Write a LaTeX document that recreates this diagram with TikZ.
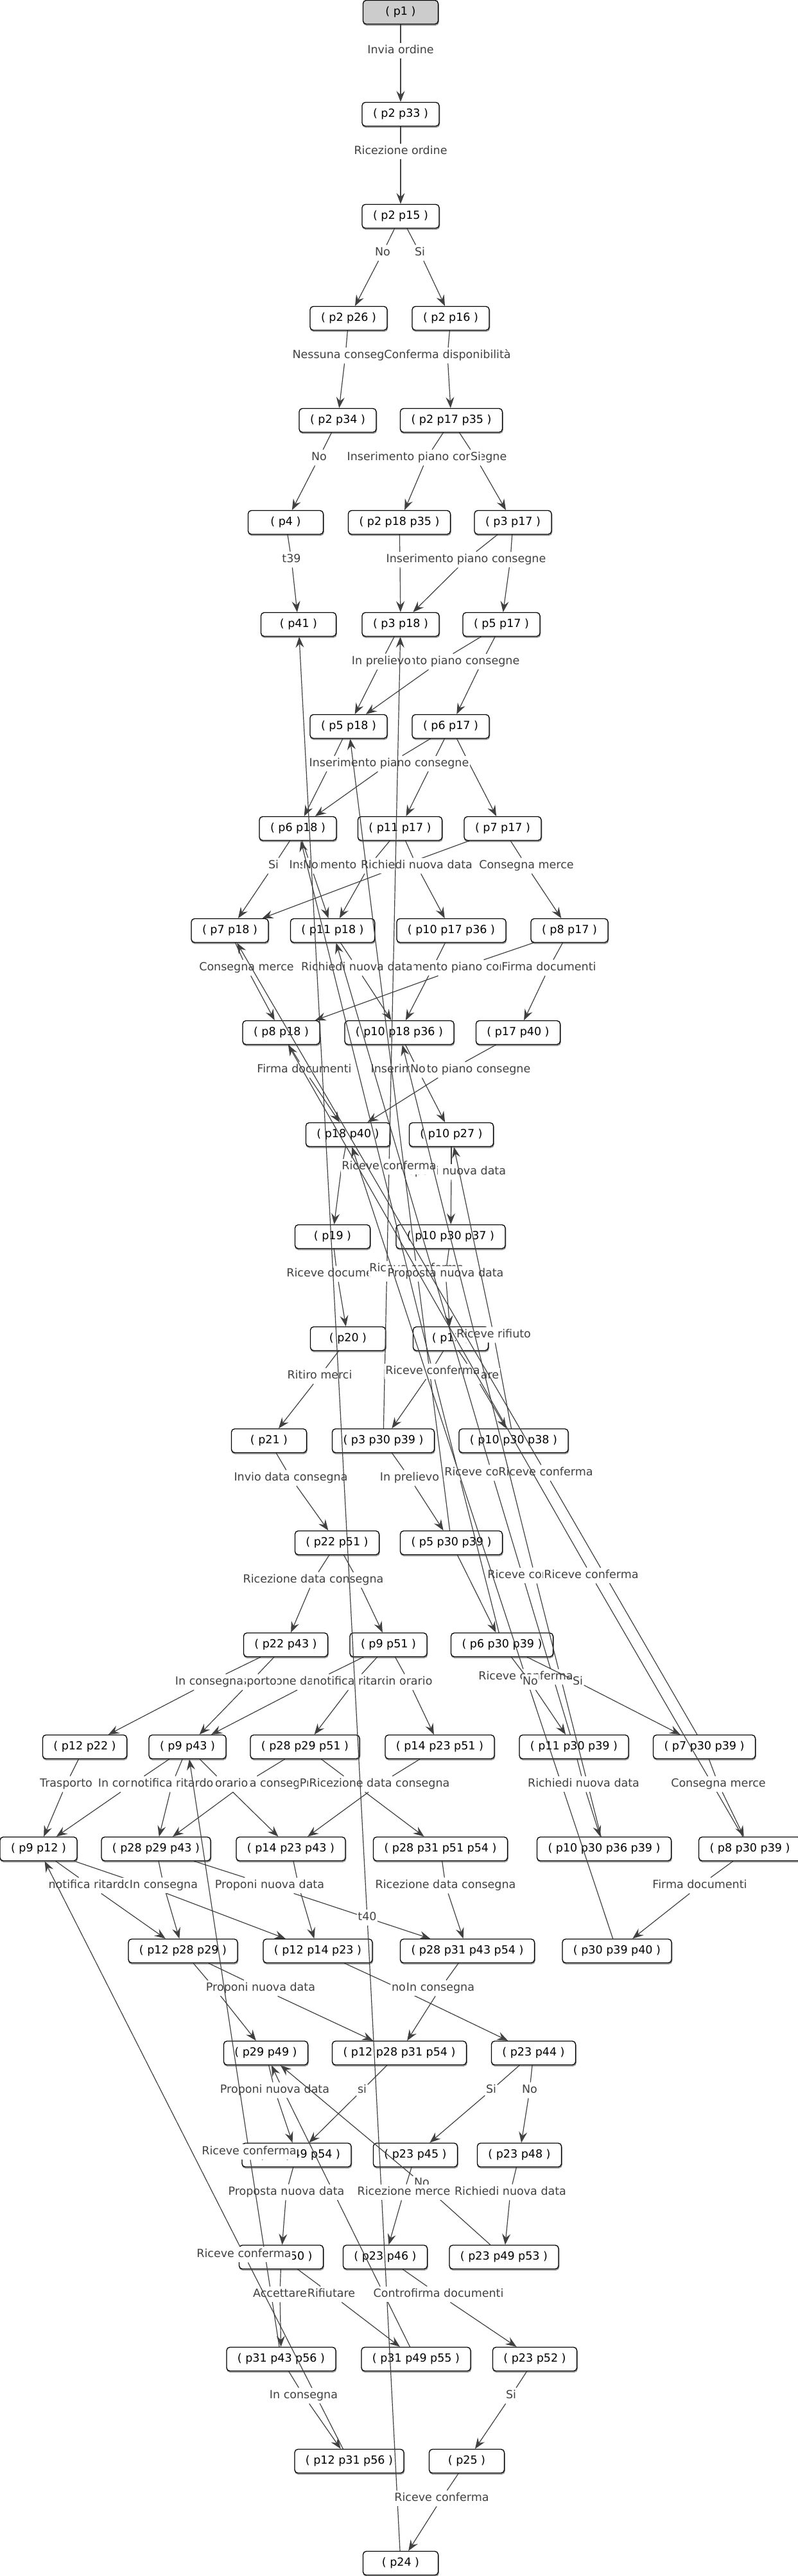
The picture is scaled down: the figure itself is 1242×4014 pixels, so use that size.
\documentclass[tikz,border=0pt]{standalone}
\usepackage{fontspec}
\usetikzlibrary{arrows.meta}
\newfontfamily\dvsans{DejaVu Sans}
\newcommand{\labfont}{\dvsans\fontsize{17.5}{21}\selectfont}
\newcommand{\nodefont}{\dvsans\fontsize{17.5}{21}\selectfont}
\tikzset{
 st/.style={draw=black, line width=1.3pt, rounded corners=5pt, fill=white, minimum width=117pt, minimum height=37pt, inner xsep=17pt, font=\nodefont, text=black,
   preaction={draw=black!45, line width=1.5pt, transform canvas={xshift=0.6pt,yshift=-1.6pt}}},
 lab/.style={fill=white, inner xsep=1.5pt, inner ysep=3pt, text height=14pt, text depth=4.5pt, font=\labfont, text=black!75},
 edge/.style={draw=black!75, line width=1.2pt},
 arr/.style={edge, -{Stealth[length=17pt,width=13pt,inset=6pt]}},
}
\newcommand{\elab}[6]{\node[lab] (#1) at (#4,#5) {#6}; \draw[edge] (#2) -- (#1); \draw[arr] (#1) -- (#3);}
\newcommand{\ehid}[5]{\coordinate (#1) at (#4,#5); \draw[arr] (#2) -- (#1) -- (#3);}
\begin{document}
\begin{tikzpicture}[x=1pt,y=-1pt]
\fill[white] (0,0) rectangle (1242,4014);
\useasboundingbox (0,0) rectangle (1242,4014);
% nodes
\node[st, fill=black!20] (n1) at (624,19) {( p1 )};
\node[st] (n2) at (624,178) {( p2 p33 )};
\node[st] (n3) at (624,337) {( p2 p15 )};
\node[st] (n4) at (543,496) {( p2 p26 )};
\node[st] (n5) at (702,496) {( p2 p16 )};
\node[st] (n6) at (526,655) {( p2 p34 )};
\node[st] (n7) at (703,655) {( p2 p17 p35 )};
\node[st] (n8) at (445,814) {( p4 )};
\node[st] (n9) at (622,814) {( p2 p18 p35 )};
\node[st] (n10) at (799,814) {( p3 p17 )};
\node[st] (n11) at (465,973) {( p41 )};
\node[st] (n12) at (624,973) {( p3 p18 )};
\node[st] (n13) at (781,973) {( p5 p17 )};
\node[st] (n14) at (543,1132) {( p5 p18 )};
\node[st] (n15) at (702,1132) {( p6 p17 )};
\node[st] (n16) at (464,1291) {( p6 p18 )};
\node[st] (n17) at (623,1291) {( p11 p17 )};
\node[st] (n18) at (783,1291) {( p7 p17 )};
\node[st] (n19) at (358,1450) {( p7 p18 )};
\node[st] (n20) at (518,1450) {( p11 p18 )};
\node[st] (n21) at (703,1450) {( p10 p17 p36 )};
\node[st] (n22) at (887,1450) {( p8 p17 )};
\node[st] (n23) at (438,1609) {( p8 p18 )};
\node[st] (n24) at (622,1609) {( p10 p18 p36 )};
\node[st] (n25) at (807,1609) {( p17 p40 )};
\node[st] (n26) at (542,1768) {( p18 p40 )};
\node[st] (n27) at (703,1768) {( p10 p27 )};
\node[st] (n28) at (518,1927) {( p19 )};
\node[st] (n29) at (702,1927) {( p10 p30 p37 )};
\node[st] (n30) at (542,2086) {( p20 )};
\node[st] (n31) at (702,2086) {( p13 )};
\node[st] (n32) at (419,2245) {( p21 )};
\node[st] (n33) at (597,2245) {( p3 p30 p39 )};
\node[st] (n34) at (800,2245) {( p10 p30 p38 )};
\node[st] (n35) at (525,2404) {( p22 p51 )};
\node[st] (n36) at (703,2404) {( p5 p30 p39 )};
\node[st] (n37) at (445,2563) {( p22 p43 )};
\node[st] (n38) at (605,2563) {( p9 p51 )};
\node[st] (n39) at (782,2563) {( p6 p30 p39 )};
\node[st] (n40) at (132,2722) {( p12 p22 )};
\node[st] (n41) at (292,2722) {( p9 p43 )};
\node[st] (n42) at (475,2722) {( p28 p29 p51 )};
\node[st] (n43) at (685,2722) {( p14 p23 p51 )};
\node[st] (n44) at (894,2722) {( p11 p30 p39 )};
\node[st] (n45) at (1097,2722) {( p7 p30 p39 )};
\node[st] (n46) at (60,2881) {( p9 p12 )};
\node[st] (n47) at (243,2881) {( p28 p29 p43 )};
\node[st] (n48) at (453,2881) {( p14 p23 p43 )};
\node[st] (n49) at (686,2881) {( p28 p31 p51 p54 )};
\node[st] (n50) at (941,2881) {( p10 p30 p36 p39 )};
\node[st] (n51) at (1168,2881) {( p8 p30 p39 )};
\node[st] (n52) at (285,3040) {( p12 p28 p29 )};
\node[st] (n53) at (495,3040) {( p12 p14 p23 )};
\node[st] (n54) at (728,3040) {( p28 p31 p43 p54 )};
\node[st] (n55) at (961,3040) {( p30 p39 p40 )};
\node[st] (n56) at (414,3199) {( p29 p49 )};
\node[st] (n57) at (622,3199) {( p12 p28 p31 p54 )};
\node[st] (n58) at (831,3199) {( p23 p44 )};
\node[st] (n59) at (462,3358) {( p31 p49 p54 )};
\node[st] (n60) at (647,3358) {( p23 p45 )};
\node[st] (n61) at (809,3358) {( p23 p48 )};
\node[st] (n62) at (438,3517) {( p31 p50 )};
\node[st] (n63) at (600,3517) {( p23 p46 )};
\node[st] (n64) at (785,3517) {( p23 p49 p53 )};
\node[st] (n65) at (438,3676) {( p31 p43 p56 )};
\node[st] (n66) at (648,3676) {( p31 p49 p55 )};
\node[st] (n67) at (833,3676) {( p23 p52 )};
\node[st] (n68) at (544,3835) {( p12 p31 p56 )};
\node[st] (n69) at (727,3835) {( p25 )};
\node[st] (n70) at (624,3994) {( p24 )};
% edges
\elab{a1}{n1}{n2}{624}{79}{Invia ordine}
\elab{a2}{n2}{n3}{624}{236}{Ricezione ordine}
\elab{a3}{n3}{n4}{596}{394}{No}
\elab{a4}{n3}{n5}{654}{394}{Si}
\elab{a5}{n4}{n6}{538}{554}{Nessuna consegna}
\elab{a6}{n5}{n7}{697}{554}{Conferma disponibilità}
\elab{a7}{n6}{n8}{497}{713}{No}
\elab{a8}{n7}{n9}{665}{713}{Inserimento piano consegne}
\elab{a9}{n7}{n10}{741}{713}{Si}
\elab{a10}{n8}{n11}{454}{872}{t39}
\ehid{a11}{n9}{n12}{623}{872}
\ehid{a13}{n10}{n13}{795}{872}
\elab{a12}{n10}{n12}{726}{872}{Inserimento piano consegne}
\ehid{a15}{n13}{n15}{751}{1031}
\elab{a16}{n13}{n14}{685}{1031}{Inserimento piano consegne}
\elab{a14}{n12}{n14}{594}{1031}{In prelievo}
\ehid{a17}{n14}{n16}{515}{1190}
\ehid{a18}{n15}{n17}{673}{1190}
\ehid{a19}{n15}{n18}{731}{1190}
\elab{a20}{n15}{n16}{606}{1190}{Inserimento piano consegne}
\elab{a26}{n18}{n22}{820}{1349}{Consegna merce}
\ehid{a25}{n18}{n19}{625}{1349}
\elab{a23}{n17}{n20}{575}{1349}{Inserimento piano consegne}
\elab{a22}{n16}{n20}{484}{1349}{No}
\elab{a21}{n16}{n19}{426}{1349}{Si}
\elab{a24}{n17}{n21}{649}{1349}{Richiedi nuova data}
\ehid{a29}{n21}{n24}{674}{1508}
\elab{a31}{n22}{n23}{717}{1508}{Inserimento piano consegne}
\elab{a28}{n20}{n24}{556}{1508}{Richiedi nuova data}
\elab{a30}{n22}{n25}{855}{1508}{Firma documenti}
\elab{a27}{n19}{n23}{384}{1508}{Consegna merce}
\elab{a32}{n23}{n26}{474}{1667}{Firma documenti}
\elab{a33}{n25}{n26}{702}{1667}{Inserimento piano consegne}
\elab{a34}{n24}{n27}{651}{1667}{No}
\ehid{a35}{n26}{n28}{531}{1826}
\elab{a36}{n27}{n29}{703}{1826}{Proponi nuova data}
\elab{b1}{n33}{n12}{606}{1818}{Riceve conferma}
\elab{a37}{n28}{n30}{525}{1985}{Riceve documenti}
\elab{b2}{n36}{n14}{649}{1977}{Riceve conferma}
\elab{a38}{n29}{n31}{694}{1985}{Proposta nuova data}
\elab{b12}{n34}{n27}{769}{2080}{Riceve rifiuto}
\elab{a39}{n30}{n32}{498}{2144}{Ritiro merci}
\ehid{a40}{n31}{n33}{667}{2144}
\elab{a41}{n31}{n34}{740}{2144}{Rifiutare}
\elab{b3}{n39}{n16}{674}{2137}{Riceve conferma}
\elab{a42}{n32}{n35}{453}{2303}{Invio data consegna}
\elab{a43}{n33}{n36}{638}{2303}{In prelievo}
\elab{b4}{n44}{n20}{766}{2295}{Riceve conferma}
\elab{b5}{n45}{n19}{850}{2295}{Riceve conferma}
\ehid{a45}{n35}{n38}{557}{2462}
\elab{a44}{n35}{n37}{488}{2462}{Ricezione data consegna}
\draw[arr] (n36) -- (n39);
\elab{b6}{n50}{n24}{833}{2455}{Riceve conferma}
\elab{b7}{n51}{n23}{921}{2455}{Riceve conferma}
\elab{a47}{n38}{n41}{487}{2621}{Ricezione data consegna}
\elab{a48}{n37}{n41}{390}{2621}{Trasporto}
\elab{a49}{n37}{n40}{326}{2621}{In consegna}
\elab{a50}{n38}{n42}{552}{2621}{notifica ritardo}
\elab{a51}{n38}{n43}{637}{2621}{in orario}
\elab{b8}{n55}{n26}{819}{2613}{Riceve conferma}
\elab{a52}{n39}{n44}{826}{2621}{No}
\elab{a53}{n39}{n45}{900}{2621}{Si}
\elab{a55}{n41}{n46}{206}{2780}{In consegna}
\elab{a54}{n40}{n46}{103}{2780}{Trasporto}
\elab{a58}{n42}{n47}{380}{2780}{Ricezione data consegna}
\elab{a57}{n41}{n48}{350}{2780}{in orario}
\elab{a56}{n41}{n47}{268}{2780}{notifica ritardo}
\elab{a59}{n42}{n49}{552}{2780}{Proponi nuova data}
\elab{a60}{n43}{n48}{591}{2780}{Ricezione data consegna}
\elab{a61}{n44}{n50}{909}{2780}{Richiedi nuova data}
\elab{a62}{n45}{n51}{1119}{2780}{Consegna merce}
\ehid{a63}{n46}{n53}{227}{2938}
\elab{a64}{n46}{n52}{140}{2938}{notifica ritardo}
\elab{a65}{n47}{n52}{255}{2938}{In consegna}
\ehid{a66}{n48}{n53}{465}{2938}
\elab{a67}{n47}{n54}{420}{2938}{Proponi nuova data}
\elab{a68}{n49}{n54}{694}{2938}{Ricezione data consegna}
\elab{a69}{n51}{n55}{1090}{2938}{Firma documenti}
\elab{b0}{n70}{n11}{572}{2988}{t40}
\ehid{a70}{n52}{n56}{334}{3098}
\elab{a71}{n52}{n57}{406}{3098}{Proponi nuova data}
\elab{a72}{n53}{n58}{621}{3098}{no}
\elab{a73}{n54}{n57}{686}{3098}{In consegna}
\ehid{b13}{n66}{n56}{441}{3257}
\elab{a74}{n56}{n59}{428}{3257}{Proponi nuova data}
\elab{a75}{n57}{n59}{564}{3257}{si}
\elab{a76}{n58}{n60}{765}{3257}{Si}
\elab{a77}{n58}{n61}{825}{3257}{No}
\elab{a78}{n59}{n62}{446}{3416}{Proposta nuova data}
\elab{b14}{n64}{n56}{657}{3402}{No}
\elab{a79}{n60}{n63}{629}{3416}{Ricezione merce}
\elab{a80}{n61}{n64}{795}{3416}{Richiedi nuova data}
\elab{b9}{n65}{n41}{388}{3353}{Riceve conferma}
\elab{a81}{n62}{n65}{436}{3575}{Accettare}
\elab{a82}{n62}{n66}{516}{3575}{Rifiutare}
\elab{a83}{n63}{n67}{683}{3575}{Controfirma documenti}
\elab{b10}{n68}{n46}{380}{3513}{Riceve conferma}
\elab{a84}{n65}{n68}{473}{3733}{In consegna}
\elab{a85}{n67}{n69}{796}{3733}{Si}
\elab{a86}{n69}{n70}{688}{3893}{Riceve conferma}
\end{tikzpicture}
\end{document}
